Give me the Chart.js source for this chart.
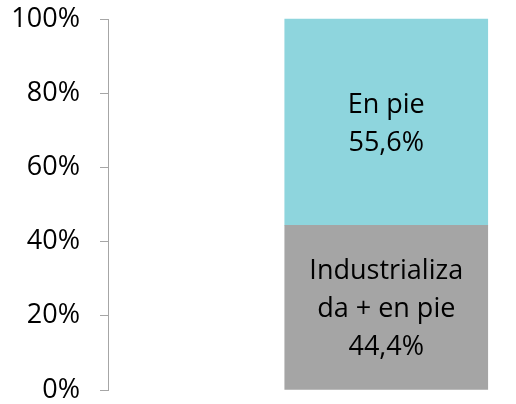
<!DOCTYPE html>
<html>
<head>
<meta charset="utf-8">
<script src="https://cdn.jsdelivr.net/npm/chart.js@4"></script>
<style>
  body { margin: 0; background: #fff; }
  #wrap { width: 516px; height: 404px; }
</style>
</head>
<body>
<div id="wrap"><canvas id="chart" width="516" height="404"></canvas></div>
<script>
const categories = ["", "Total"];
const industrializada = [null, 44.4];
const enPie = [null, 55.6];
const seriesNames = ["Industrializada + en pie", "En pie"];
const industrializadaLabel = ["Industrializa", "da + en pie", "44,4%"];
const enPieLabel = ["En pie", "55,6%"];
const yTicks = [0, 20, 40, 60, 80, 100];

const FONT = "'Open Sans', sans-serif";

// writes the text lines in the middle of each segment
const segmentText = {
  id: "segmentText",
  afterDatasetsDraw(chart) {
    const ctx = chart.ctx;
    const texts = [industrializadaLabel, enPieLabel];
    ctx.save();
    ctx.font = "27px " + FONT;
    ctx.fillStyle = "#000";
    ctx.textAlign = "center";
    ctx.textBaseline = "middle";
    chart.data.datasets.forEach((ds, i) => {
      const bar = chart.getDatasetMeta(i).data[1];
      const lines = texts[i];
      const mid = (bar.y + bar.base) / 2;
      const lh = 38;
      lines.forEach((l, j) => {
        ctx.fillText(l, bar.x, mid + 2 + (j - (lines.length - 1) / 2) * lh);
      });
    });
    ctx.restore();
  }
};

new Chart(document.getElementById("chart"), {
  type: "bar",
  data: {
    labels: categories,
    datasets: [
      {
        label: seriesNames[0],
        data: industrializada,
        backgroundColor: "#a5a5a5",
        clip: false
      },
      {
        label: seriesNames[1],
        data: enPie,
        backgroundColor: "#8ed5dd",
        clip: false
      }
    ]
  },
  options: {
    responsive: false,
    animation: false,
    barThickness: 203,
    layout: { padding: { top: 19, right: 37, bottom: 14, left: 0 } },
    plugins: { legend: { display: false }, tooltip: { enabled: false } },
    scales: {
      x: { stacked: true, display: false },
      y: {
        stacked: true,
        min: 0,
        max: 100,
        afterFit: s => { s.width = 108; s.paddingTop = 0; s.paddingBottom = 0; },
        afterBuildTicks: s => { s.ticks = yTicks.map(v => ({ value: v })); },
        border: { display: true, color: "#a6a6a6", width: 1 },
        grid: { drawOnChartArea: false, drawTicks: true, tickLength: 8, color: "#a6a6a6" },
        ticks: {
          padding: 20,
          color: "#000",
          font: { family: FONT, size: 27, lineHeight: 1 },
          callback: v => v + "%"
        }
      }
    }
  },
  plugins: [segmentText]
});
</script>
</body>
</html>
